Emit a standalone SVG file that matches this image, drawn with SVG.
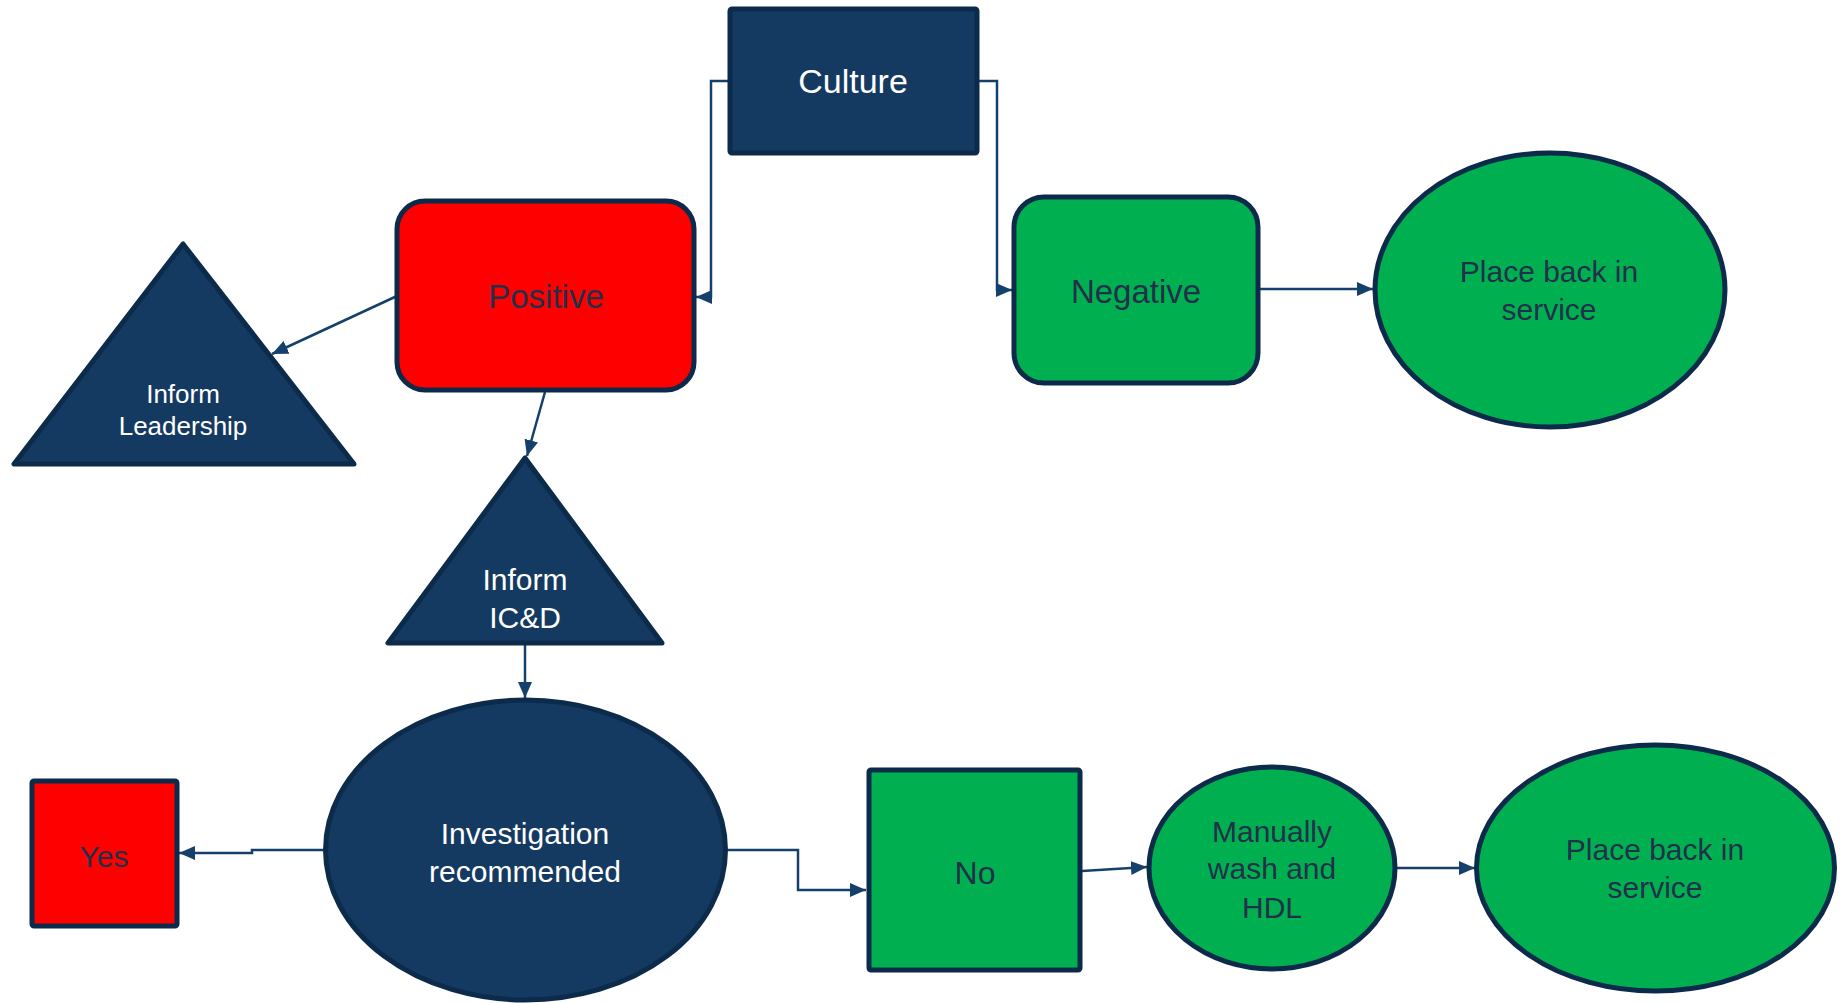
<svg xmlns="http://www.w3.org/2000/svg" width="1844" height="1003" viewBox="0 0 1844 1003">
<defs>
<marker id="arr" markerUnits="userSpaceOnUse" markerWidth="16" markerHeight="14" viewBox="0 0 16 14" refX="16" refY="7" orient="auto">
<path d="M0,0 L16,7 L0,14 Z" fill="#15406B"/>
</marker>
</defs>
<style>
.navy{fill:#153A62;stroke:#0C2A4A;stroke-width:5;stroke-linejoin:round}
.green{fill:#00B050;stroke:#0C2A4A;stroke-width:5;stroke-linejoin:round}
.red{fill:#FF0000;stroke:#0C2A4A;stroke-width:5;stroke-linejoin:round}
.conn{fill:none;stroke:#15406B;stroke-width:2.5;marker-end:url(#arr)}
text{font-family:"Liberation Sans",Arial,sans-serif;text-anchor:middle}
.lt{fill:#FFFFFF}
.dk{fill:#22304A}
</style>
<rect width="1844" height="1003" fill="#FFFFFF"/>
<g id="connectors">
<path class="conn" d="M728,81 H711 V297 H696"/>
<path class="conn" d="M979,81 H997 V290 H1012"/>
<path class="conn" d="M1260,289 H1373"/>
<path class="conn" d="M397,296 L272,354"/>
<path class="conn" d="M545,392 L527,456"/>
<path class="conn" d="M525,645 V698"/>
<path class="conn" d="M324,850 H252 V853 H179"/>
<path class="conn" d="M727,850 H798 V890 H866"/>
<path class="conn" d="M1082,871 L1147,867"/>
<path class="conn" d="M1397,868 H1475"/>
</g>
<g id="culture">
<rect class="navy" x="730" y="9" width="247" height="144" rx="2"/>
<text class="lt" x="853" y="93" font-size="34">Culture</text>
</g>
<g id="positive">
<rect class="red" x="397" y="201" width="297" height="189" rx="28"/>
<text class="dk" x="546" y="308" font-size="33">Positive</text>
</g>
<g id="negative">
<rect class="green" x="1014" y="197" width="244" height="186" rx="30"/>
<text class="dk" x="1136" y="303" font-size="33">Negative</text>
</g>
<g id="place-back-1">
<ellipse class="green" cx="1550" cy="290" rx="175" ry="137"/>
<text class="dk" x="1549" y="282" font-size="30">Place back in</text>
<text class="dk" x="1549" y="320" font-size="30">service</text>
</g>
<g id="inform-leadership">
<polygon class="navy" points="183,244 14,464 354,464"/>
<text class="lt" x="183" y="403" font-size="26">Inform</text>
<text class="lt" x="183" y="435" font-size="26">Leadership</text>
</g>
<g id="inform-icd">
<polygon class="navy" points="525,458 388,643 662,643"/>
<text class="lt" x="525" y="590" font-size="30">Inform</text>
<text class="lt" x="525" y="628" font-size="30">IC&amp;D</text>
</g>
<g id="investigation">
<ellipse class="navy" cx="525.5" cy="850" rx="200" ry="150"/>
<text class="lt" x="525" y="844" font-size="30">Investigation</text>
<text class="lt" x="525" y="882" font-size="30">recommended</text>
</g>
<g id="yes">
<rect class="red" x="32" y="781" width="145" height="145" rx="2"/>
<text class="dk" x="104" y="867" font-size="30">Yes</text>
</g>
<g id="no">
<rect class="green" x="869" y="770" width="211" height="200" rx="2"/>
<text class="dk" x="975" y="884" font-size="32">No</text>
</g>
<g id="manually-wash">
<ellipse class="green" cx="1272" cy="868" rx="123" ry="101"/>
<text class="dk" x="1272" y="842" font-size="30">Manually</text>
<text class="dk" x="1272" y="879" font-size="30">wash and</text>
<text class="dk" x="1272" y="918" font-size="30">HDL</text>
</g>
<g id="place-back-2">
<ellipse class="green" cx="1655.5" cy="868" rx="179" ry="123"/>
<text class="dk" x="1655" y="860" font-size="30">Place back in</text>
<text class="dk" x="1655" y="898" font-size="30">service</text>
</g>
</svg>
